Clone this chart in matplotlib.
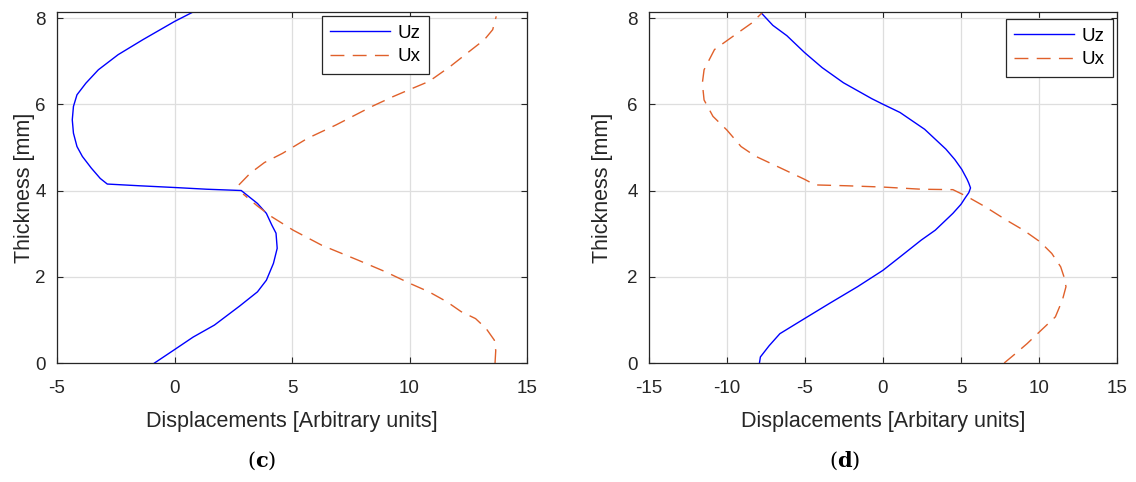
import matplotlib
matplotlib.use("Agg")
import matplotlib.pyplot as plt

# (c) displacement profiles through the thickness
c_uz_x = [-0.85, 0.0, 0.79, 1.70, 2.77, 3.53, 3.91, 4.21, 4.37, 4.32,
          4.14, 3.91, 3.53, 3.07, 2.84,
          1.37, 0.0, -1.49, -2.86,
          -3.16, -3.54, -3.92, -4.15, -4.30, -4.35, -4.30, -4.15, -3.77,
          -3.24, -2.40, -1.34, 0.0, 0.79]
c_uz_y = [0.0, 0.31, 0.60, 0.88, 1.32, 1.65, 1.92, 2.31, 2.66, 3.01,
          3.20, 3.47, 3.70, 3.90, 4.00,
          4.03, 4.07, 4.11, 4.15,
          4.28, 4.52, 4.79, 5.02, 5.33, 5.64, 5.95, 6.22, 6.49,
          6.80, 7.15, 7.50, 7.92, 8.14]
c_ux_x = [13.64, 13.67, 13.61, 13.26, 12.81, 12.20, 11.59, 10.83, 10.04,
          9.0, 7.79, 6.27, 5.05, 4.14, 3.53, 2.92, None,
          2.74, 3.22, 3.83, 4.59, 5.66, 6.87, 8.40, 9.31, 10.04, 10.83,
          11.74, 12.65, 13.19, 13.54, 13.69]
c_ux_y = [0.0, 0.29, 0.53, 0.80, 1.03, 1.19, 1.42, 1.65, 1.84,
          2.11, 2.39, 2.73, 3.08, 3.39, 3.64, 3.92, None,
          4.13, 4.40, 4.65, 4.86, 5.21, 5.52, 5.95, 6.18, 6.35, 6.53,
          6.88, 7.27, 7.50, 7.73, 8.04]

# (d)
d_uz_x = [-7.92, -7.86, -7.3, -6.61, -5.03, -3.44, -1.63, 0.0, 1.09, 2.45,
          3.35, 4.48, 5.0, 5.27, 5.5, 5.61, 5.5, 5.39, 5.05, 4.6, 4.03, 2.67,
          1.09, 0.0, -0.72, -2.54, -3.9, -5.03, -6.16, -7.06, -7.86]
d_uz_y = [0.0, 0.14, 0.4, 0.68, 1.03, 1.38, 1.77, 2.15, 2.46, 2.85,
          3.08, 3.47, 3.68, 3.83, 3.95, 4.06, 4.17, 4.26, 4.49, 4.72, 4.96, 5.42,
          5.81, 6.0, 6.13, 6.5, 6.85, 7.2, 7.59, 7.83, 8.14]
d_ux_x = [7.77, 8.5, 9.24, 10.14, 11.05, 11.5, 11.73, 11.6, 11.39, 10.82, 10.07,
          9.01, 7.88, 6.52, 5.39, 4.48, 2.45, 0.0, -2.31, -4.35, -5.03,
          -6.61, -8.2, -9.1, -10.0, -10.9, -11.47, -11.58, -11.47, -10.8,
          -9.33, -8.43, -7.75]
d_ux_y = [0.0, 0.22, 0.45, 0.76, 1.07, 1.46, 1.77, 2.0, 2.23, 2.54, 2.81,
          3.08, 3.32, 3.63, 3.86, 4.02, 4.03, 4.08, 4.11, 4.13, 4.26,
          4.53, 4.8, 5.02, 5.4, 5.72, 6.1, 6.49, 6.8, 7.27,
          7.65, 7.88, 8.12]

W, H = 1136, 482
panels = [
    dict(uz=(c_uz_x, c_uz_y), ux=(c_ux_x, c_ux_y), xlim=(-5, 15),
         xticks=[-5, 0, 5, 10, 15], xlabel="Displacements [Arbitrary units]",
         tag="c", left=57, width=470, ylab_dx=-22, leg=(322, 16), cap_x=262),
    dict(uz=(d_uz_x, d_uz_y), ux=(d_ux_x, d_ux_y), xlim=(-15, 15),
         xticks=[-15, -10, -5, 0, 5, 10, 15], xlabel="Displacements [Arbitary units]",
         tag="d", left=649, width=468, ylab_dx=-36, leg=(1006, 19), cap_x=845),
]

plt.rcParams["font.family"] = ["Liberation Sans", "DejaVu Sans"]
plt.rcParams["axes.unicode_minus"] = False
plt.rcParams["mathtext.fontset"] = "dejavuserif"

fig = plt.figure(figsize=(W / 100, H / 100), dpi=100)

for p in panels:
    ax = fig.add_axes([p["left"] / W, 119 / H, p["width"] / W, 351 / H])
    ax.plot(*p["uz"], color="#0000ff", linewidth=1.0, label="Uz")
    ax.plot(*p["ux"], color="#e0602a", linewidth=1.0, linestyle=(0, (10, 6)), label="Ux")
    ax.set_xlim(*p["xlim"])
    ax.set_ylim(0, 8.14)
    ax.set_xticks(p["xticks"])
    ax.set_yticks([0, 2, 4, 6, 8])
    ax.grid(True, color="#dedede", linewidth=0.9)
    ax.tick_params(direction="in", top=True, right=True, length=4,
                   labelsize=13.5, colors="#262626")
    ax.tick_params(axis="x", pad=12)
    ax.tick_params(axis="y", pad=8)
    for s in ax.spines.values():
        s.set_color("#262626")
        s.set_linewidth(0.9)
    ax.set_xlabel(p["xlabel"], fontsize=15.5, color="#262626", labelpad=10)
    ax.set_ylabel("Thickness [mm]", fontsize=15.5, color="#262626")
    ax.yaxis.set_label_coords(p["ylab_dx"] / p["width"], 0.5)
    lx, ly = p["leg"]
    leg = ax.legend(loc="upper left", bbox_to_anchor=(lx / W, 1 - ly / H),
                    bbox_transform=fig.transFigure, fontsize=13.5, fancybox=False,
                    edgecolor="#262626", handlelength=3.2, handletextpad=0.4,
                    borderaxespad=0, borderpad=0.45, labelspacing=0.35, framealpha=1)
    leg.get_frame().set_linewidth(0.9)
    fig.text(p["cap_x"] / W, 1 - 461 / H, r"($\mathbf{" + p["tag"] + "}$)",
             ha="center", va="center", fontsize=15, family="DejaVu Serif")

fig.savefig("out.png", dpi=100)
